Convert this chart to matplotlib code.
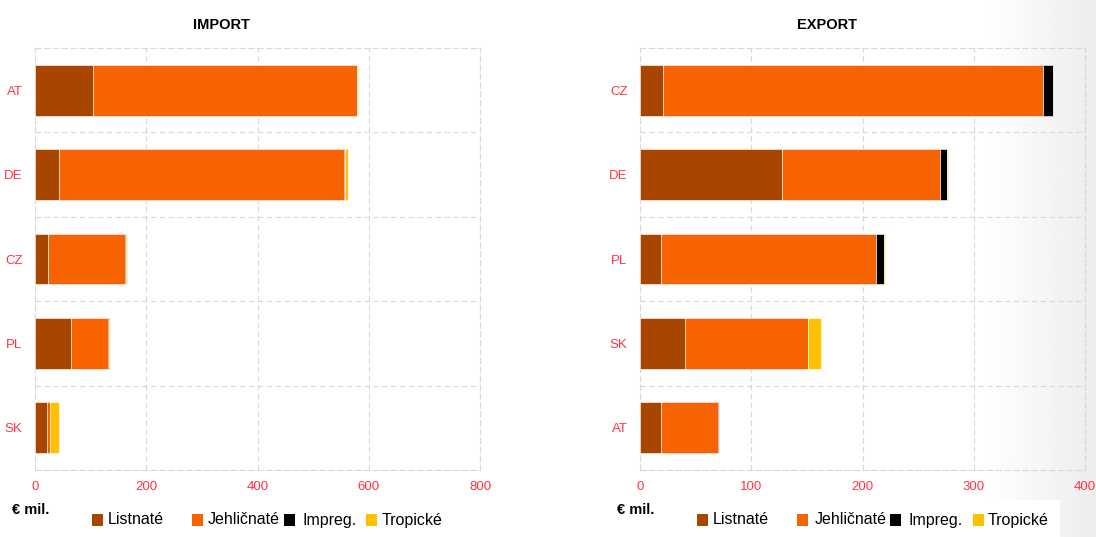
import numpy as np
import matplotlib
matplotlib.use("Agg")
import matplotlib.pyplot as plt
from matplotlib.patches import Rectangle

plt.rcParams['font.family'] = ['Liberation Sans', 'DejaVu Sans']

# data (EUR mil.)
series = ['Listnaté', 'Jehličnaté', 'Impreg.', 'Tropické']
colors = ['#a84600', '#f76300', '#000000', '#ffc000']

imp_countries = ['AT', 'DE', 'CZ', 'PL', 'SK']
imp_listnate = [104, 43, 24, 65, 21]
imp_jehlicnate = [474, 513, 138, 67, 6]
imp_impreg = [0.5, 2, 1.5, 0.5, 0.5]
imp_tropicke = [1.5, 4, 2, 3, 15]

exp_countries = ['CZ', 'DE', 'PL', 'SK', 'AT']
exp_listnate = [21, 128, 19, 40, 19]
exp_jehlicnate = [341, 142, 193, 111, 51]
exp_impreg = [9, 6, 7, 0.3, 1]
exp_tropicke = [0.3, 1, 1, 11, 0]

W, H = 1096, 537
fig = plt.figure(figsize=(W / 100, H / 100), dpi=100)

# light grey gradient on the right edge
bg = fig.add_axes([0, 0, 1, 1], zorder=-10)
x = np.linspace(0, 1, 400)
g = np.clip((x - 0.9) / 0.1, 0, 1)
row = 1.0 - 0.07 * g
img = np.tile(row, (10, 1))
bg.imshow(img, cmap='gray', vmin=0, vmax=1, aspect='auto', extent=[0, 1, 0, 1])
bg.set_xlim(0, 1)
bg.set_ylim(0, 1)
bg.axis('off')


def draw(ax, cats, vals, xmax, step, title):
    y = np.arange(len(cats))
    left = np.zeros(len(cats))
    for v, c in zip(vals, colors):
        v = np.array(v, dtype=float)
        ax.barh(y, v, left=left, height=0.6, color=c, edgecolor='white', linewidth=0.4, zorder=3)
        left += v
    ax.set_xlim(0, xmax)
    ax.set_ylim(len(cats) - 0.5, -0.5)
    ax.set_yticks(y)
    ax.set_yticklabels(cats)
    ax.set_xticks(np.arange(0, xmax + 1, step))
    ax.set_yticks(np.arange(0.5, len(cats) - 0.5, 1), minor=True)
    ax.tick_params(axis='both', length=0, colors='#ff3344', labelsize=9.5)
    ax.tick_params(axis='y', pad=9)
    ax.tick_params(axis='x', pad=8)
    ax.tick_params(which='minor', length=0)
    ax.grid(True, axis='x', which='major', color='#d8d8d8', linestyle=(0, (5, 3)), linewidth=0.8, zorder=0)
    ax.grid(True, axis='y', which='minor', color='#d8d8d8', linestyle=(0, (5, 3)), linewidth=0.8, zorder=0)
    for s in ax.spines.values():
        s.set_color('#d8d8d8')
        s.set_linestyle((0, (5, 3)))
        s.set_linewidth(0.8)
    ax.set_facecolor('none')
    ax.set_title(title, fontsize=10.5, fontweight='bold', pad=14, x=0.42)


ax1 = fig.add_axes([35 / W, 1 - 470 / H, 445 / W, 422 / H])
draw(ax1, imp_countries, [imp_listnate, imp_jehlicnate, imp_impreg, imp_tropicke], 800, 200, 'IMPORT')
ax2 = fig.add_axes([640 / W, 1 - 470 / H, 445 / W, 422 / H])
draw(ax2, exp_countries, [exp_listnate, exp_jehlicnate, exp_impreg, exp_tropicke], 400, 100, 'EXPORT')

# legends drawn by hand to match the uneven spacing
legend_rows = [
    (12, [92, 192, 284, 366], [108, 208, 302, 382], False),
    (617, [697, 797, 890, 973], [713, 815, 908, 988], True),
]
for xm, sq, tx, boxed in legend_rows:
    if boxed:
        fig.patches.append(Rectangle((690 / W, 0), 370 / W, 37 / H, transform=fig.transFigure,
                                     facecolor='white', edgecolor='none', zorder=-5))
    fig.text(xm / W, 1 - 510 / H, '€ mil.', fontsize=10.5, fontweight='bold', ha='left', va='center')
    for c, s, sx, tx_ in zip(colors, series, sq, tx):
        fig.patches.append(Rectangle((sx / W, 1 - 526 / H), 11 / W, 12 / H, transform=fig.transFigure,
                                     facecolor=c, edgecolor='none'))
        fig.text(tx_ / W, 1 - 520 / H, s, fontsize=11.5, ha='left', va='center')

fig.savefig('out.png', dpi=100)
